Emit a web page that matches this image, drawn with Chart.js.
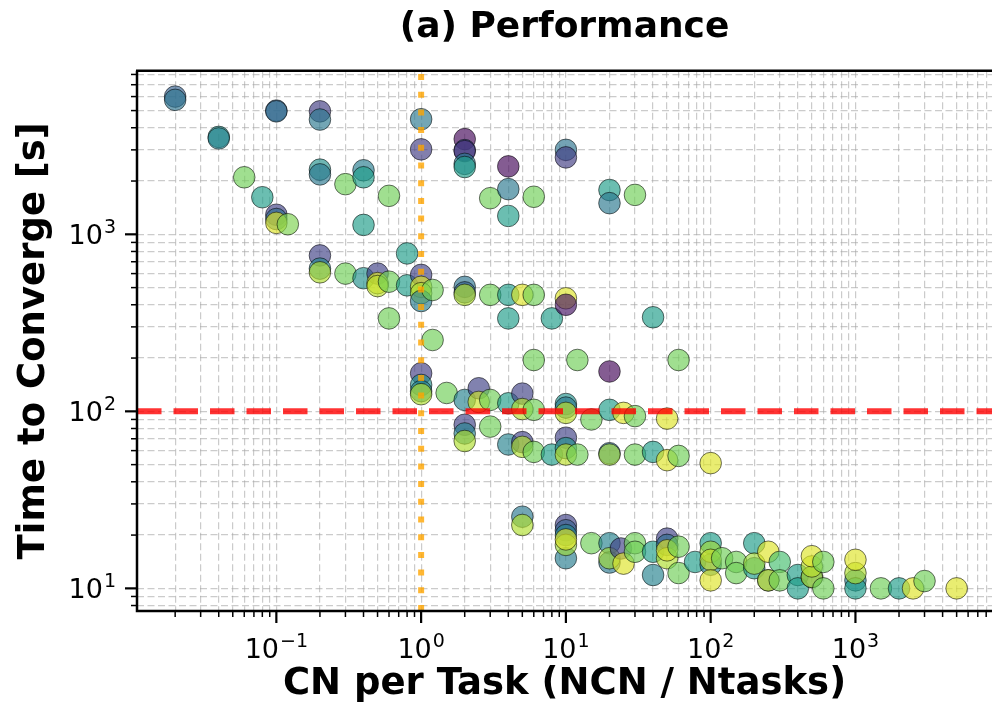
<!DOCTYPE html>
<html>
<head>
<meta charset="utf-8">
<title>(a) Performance</title>
<script src="https://cdn.jsdelivr.net/npm/chart.js@4.4.0/dist/chart.umd.min.js"></script>
<style>
  html, body { margin: 0; padding: 0; background: #fff; overflow: hidden; }
  canvas { display: block; }
</style>
</head>
<body>
<canvas id="perfChart" width="992" height="707"></canvas>
<script>
// ---- data ----
// CN per task (x), time to converge in seconds (y), colour value 0..1 (viridis)
var cnPerTask = [
    0.02, 0.02, 0.04, 0.04, 0.1, 0.1, 0.2, 0.2, 1, 1,
    2, 2, 2, 2, 2, 4, 10, 10, 0.06, 0.08,
    0.1, 0.1, 0.1, 0.12, 0.2, 0.2, 0.3, 0.4, 0.4, 0.6,
    0.4, 3, 4, 4, 6, 20, 20, 30,
    0.2, 0.2, 0.2, 0.3, 0.4, 0.5, 0.5, 0.5, 0.6, 0.8,
    0.8, 1, 1, 1, 1, 1.2, 2, 2, 2, 3,
    4, 5, 6, 0.6, 4, 8, 10, 10, 40, 1.2,
    6, 12, 60, 20,
    1, 1, 1, 1, 1.5, 2, 2.5, 2.5, 3, 4,
    5, 5, 6, 10, 10, 10, 15, 20, 25, 30,
    50, 2, 2, 2, 3, 4, 5, 5, 6, 8,
    10, 10, 10, 12, 20, 20, 30, 40, 50, 60,
    100,
    5, 5, 10, 10, 10, 10, 10, 10, 15, 20,
    20, 20, 24, 25, 30, 30, 40, 40, 50, 50,
    50, 50, 60, 60, 78, 100, 100, 100, 100, 100,
    120, 150, 150, 200, 200, 200, 250, 250, 250, 300,
    300, 400, 400, 500, 500, 500, 500, 600, 600, 1000,
    1000, 1000, 1000, 1500, 2000, 2500, 3000, 5000
];
var timeToConverge = [
    6000, 5750, 3550, 3480, 5000, 4950, 4950, 4450, 4470, 3020,
    3450, 2990, 2950, 2500, 2400, 2420, 3000, 2720, 2100, 1620,
    1290, 1220, 1160, 1140, 2320, 2180, 1920, 2300, 2100, 1650,
    1130, 1600, 1800, 1270, 1630, 1780, 1500, 1670,
    760, 640, 610, 600, 565, 600, 530, 510, 540, 780,
    515, 590, 505, 465, 420, 485, 505, 470, 455, 455,
    455, 455, 455, 335, 335, 335, 435, 400, 340, 253,
    195, 195, 195, 168,
    164, 141, 130, 125, 127, 116, 135, 113, 116, 111,
    126, 103, 102, 110, 105, 98, 90, 102, 98, 94,
    91, 84, 75, 68, 82, 65, 67, 63, 59, 57,
    71, 62, 57, 57, 58, 57, 57, 59, 53, 56,
    51,
    25.4, 22.8, 22.8, 21.3, 20, 14.8, 17.6, 18.9, 18, 18,
    14, 14.8, 16.8, 13.8, 18, 16.1, 16.1, 11.9, 19.1, 17.6,
    14.8, 16.4, 17.2, 12.2, 14.1, 18, 13.6, 16.1, 14.5, 11.1,
    14.8, 14.1, 12.2, 18, 13, 13.8, 11.1, 11.1, 16.1, 14.1,
    11.1, 11.9, 10, 11.6, 11.6, 13.3, 15.2, 14.1, 10, 11.1,
    10, 12.2, 14.5, 10, 10, 10, 11, 10
];
var colorValue = [
    0.3, 0.38, 0.5, 0.45, 0.3, 0.35, 0.18, 0.4, 0.4, 0.18,
    0.02, 0.3, 0.12, 0.4, 0.55, 0.02, 0.38, 0.18, 0.78, 0.55,
    0.2, 0.35, 0.95, 0.8, 0.5, 0.4, 0.78, 0.42, 0.55, 0.78,
    0.55, 0.78, 0.4, 0.55, 0.78, 0.55, 0.4, 0.78,
    0.2, 0.45, 0.88, 0.78, 0.5, 0.2, 0.95, 0.9, 0.78, 0.55,
    0.55, 0.2, 0.95, 0.88, 0.42, 0.78, 0.38, 0.3, 0.88, 0.78,
    0.55, 0.95, 0.78, 0.78, 0.55, 0.55, 0.95, 0.05, 0.55, 0.78,
    0.78, 0.78, 0.78, 0.02,
    0.18, 0.5, 0.45, 0.88, 0.78, 0.45, 0.2, 0.92, 0.78, 0.55,
    0.2, 0.88, 0.78, 0.5, 0.4, 0.9, 0.78, 0.55, 0.95, 0.78,
    0.95, 0.2, 0.45, 0.88, 0.78, 0.45, 0.2, 0.88, 0.78, 0.55,
    0.2, 0.5, 0.9, 0.78, 0.35, 0.85, 0.78, 0.55, 0.95, 0.78,
    0.95,
    0.4, 0.88, 0.2, 0.3, 0.45, 0.42, 0.85, 0.95, 0.78, 0.45,
    0.4, 0.85, 0.2, 0.95, 0.78, 0.78, 0.55, 0.45, 0.2, 0.35,
    0.88, 0.95, 0.78, 0.78, 0.55, 0.55, 0.45, 0.85, 0.92, 0.95,
    0.78, 0.78, 0.78, 0.55, 0.55, 0.85, 0.45, 0.92, 0.95, 0.7,
    0.78, 0.55, 0.55, 0.4, 0.88, 0.9, 0.95, 0.78, 0.78, 0.45,
    0.55, 0.88, 0.95, 0.78, 0.55, 0.95, 0.78, 0.95
];

// axis ticks: major positions and their exponent labels (10^n)
var xMajorTicks = [0.1, 1, 10, 100, 1000];
var xTickExponents = ['\u22121', '0', '1', '2', '3'];
var yMajorTicks = [10, 100, 1000];
var yTickExponents = ['1', '2', '3'];

// reference lines
var targetTime = 100;    // red dashed
var balancedRatio = 1;   // orange dotted

var viridisStops = [
    [68, 1, 84], [72, 40, 120], [62, 73, 137], [49, 104, 142], [38, 130, 142],
    [31, 158, 137], [53, 183, 121], [110, 206, 88], [181, 222, 43], [253, 231, 37]
];

function viridis(v, alpha) {
    var t = Math.max(0, Math.min(1, v)) * (viridisStops.length - 1);
    var i = Math.min(Math.floor(t), viridisStops.length - 2);
    var f = t - i;
    var a = viridisStops[i], b = viridisStops[i + 1];
    var r = Math.round(a[0] + (b[0] - a[0]) * f);
    var g = Math.round(a[1] + (b[1] - a[1]) * f);
    var bl = Math.round(a[2] + (b[2] - a[2]) * f);
    return 'rgba(' + r + ',' + g + ',' + bl + ',' + alpha + ')';
}

// 1..9 x 10^n ticks inside [min, max]
function logTicks(min, max, majors) {
    var ticks = [];
    for (var e = Math.floor(Math.log10(min)); e <= Math.ceil(Math.log10(max)); e++) {
        for (var m = 1; m <= 9; m++) {
            var v = Number((m * Math.pow(10, e)).toPrecision(6));
            if (v >= min && v <= max) {
                ticks.push({ value: v, major: majors.indexOf(v) !== -1 });
            }
        }
    }
    return ticks;
}

var points = cnPerTask.map(function (x, i) {
    return { x: x, y: timeToConverge[i] };
});

var gridStyle = {
    color: 'rgba(165,165,165,0.58)',
    lineWidth: 1.2,
    drawTicks: false,
    tickLength: 0
};

var baseFont = '27px "DejaVu Sans"';
var expFont = '19px "DejaVu Sans"';

// reference lines drawn over the markers, like the original
var refLines = {
    id: 'refLines',
    afterDatasetsDraw: function (chart) {
        var ctx = chart.ctx, area = chart.chartArea;
        var yPix = chart.scales.y.getPixelForValue(targetTime);
        var xPix = chart.scales.x.getPixelForValue(balancedRatio);
        ctx.save();
        ctx.beginPath();
        ctx.rect(area.left, area.top, area.right - area.left, area.bottom - area.top);
        ctx.clip();

        ctx.strokeStyle = 'rgba(255,165,0,0.8)';
        ctx.lineWidth = 6;
        ctx.setLineDash([6, 11.7]);
        ctx.beginPath();
        ctx.moveTo(xPix, area.bottom);
        ctx.lineTo(xPix, area.top);
        ctx.stroke();

        ctx.strokeStyle = 'rgba(255,0,0,0.8)';
        ctx.lineWidth = 6;
        ctx.setLineDash([24.5, 12]);
        ctx.beginPath();
        ctx.moveTo(area.left, yPix);
        ctx.lineTo(area.right, yPix);
        ctx.stroke();
        ctx.restore();
    }
};

// spines, outward ticks (long major, short minor) and 10^n labels
var frame = {
    id: 'frame',
    afterDraw: function (chart) {
        var ctx = chart.ctx, area = chart.chartArea;
        var xs = chart.scales.x, ys = chart.scales.y;
        ctx.save();
        ctx.strokeStyle = '#000';
        ctx.fillStyle = '#000';
        ctx.setLineDash([]);

        xs.ticks.forEach(function (t) {
            var p = xs.getPixelForValue(t.value);
            ctx.lineWidth = t.major ? 2.2 : 1.5;
            ctx.beginPath();
            ctx.moveTo(p, area.bottom);
            ctx.lineTo(p, area.bottom + (t.major ? 12 : 6));
            ctx.stroke();
        });
        ys.ticks.forEach(function (t) {
            var p = ys.getPixelForValue(t.value);
            ctx.lineWidth = t.major ? 2.2 : 1.5;
            ctx.beginPath();
            ctx.moveTo(area.left, p);
            ctx.lineTo(area.left - (t.major ? 12 : 6), p);
            ctx.stroke();
        });

        ctx.lineWidth = 2.5;
        ctx.beginPath();
        ctx.moveTo(area.left, area.top);
        ctx.lineTo(area.left, area.bottom);
        ctx.lineTo(area.right + 2, area.bottom);
        ctx.moveTo(area.left - 1, area.top);
        ctx.lineTo(area.right + 2, area.top);
        ctx.stroke();

        ctx.textBaseline = 'alphabetic';
        ctx.textAlign = 'left';
        xMajorTicks.forEach(function (v, i) {
            var p = xs.getPixelForValue(v);
            ctx.font = baseFont;
            var wb = ctx.measureText('10').width;
            ctx.font = expFont;
            var we = ctx.measureText(xTickExponents[i]).width;
            var x0 = p - (wb + we + 1) / 2;
            ctx.font = baseFont;
            ctx.fillText('10', x0, area.bottom + 47);
            ctx.font = expFont;
            ctx.fillText(xTickExponents[i], x0 + wb + 1, area.bottom + 36);
        });
        yMajorTicks.forEach(function (v, i) {
            var p = ys.getPixelForValue(v);
            ctx.font = expFont;
            var we = ctx.measureText(yTickExponents[i]).width;
            var xr = area.left - 21;
            ctx.fillText(yTickExponents[i], xr - we, p - 1);
            ctx.font = baseFont;
            var wb = ctx.measureText('10').width;
            ctx.fillText('10', xr - we - 1 - wb, p + 10);
        });
        ctx.restore();
    }
};

var axisTitleFont = { family: 'DejaVu Sans', size: 37, weight: 'bold', lineHeight: 1.2 };

new Chart(document.getElementById('perfChart'), {
    type: 'scatter',
    data: {
        datasets: [{
            label: 'runs',
            data: points,
            pointRadius: 10.8,
            pointHoverRadius: 10.8,
            borderWidth: 1,
            borderColor: 'rgba(0,0,0,0.55)',
            backgroundColor: function (c) {
                return viridis(colorValue[c.dataIndex], 0.66);
            }
        }]
    },
    options: {
        responsive: false,
        animation: false,
        devicePixelRatio: 1,
        layout: { padding: 0, autoPadding: false },
        plugins: {
            legend: { display: false },
            tooltip: { enabled: false },
            title: {
                display: true,
                text: '(a) Performance',
                fullSize: false,
                color: '#000',
                font: { family: 'DejaVu Sans', size: 36, weight: 'bold', lineHeight: 1.2 },
                padding: { top: 6, bottom: 21.5 }
            }
        },
        scales: {
            x: {
                type: 'logarithmic',
                min: 0.0109,
                max: 8775,
                grid: gridStyle,
                border: { display: false, dash: [7, 3.5] },
                afterBuildTicks: function (s) { s.ticks = logTicks(s.min, s.max, xMajorTicks); },
                afterFit: function (s) {
                    s.height = 96;
                    s.paddingLeft = 0;
                    s.paddingRight = 0;
                },
                ticks: { display: false },
                title: {
                    display: true,
                    text: 'CN per Task (NCN / Ntasks)',
                    color: '#000',
                    font: axisTitleFont,
                    padding: { top: 0, bottom: 0 }
                }
            },
            y: {
                type: 'logarithmic',
                min: 7.45,
                max: 8400,
                grid: gridStyle,
                border: { display: false, dash: [7, 3.5] },
                afterBuildTicks: function (s) { s.ticks = logTicks(s.min, s.max, yMajorTicks); },
                afterFit: function (s) {
                    s.width = 137;
                    s.paddingTop = 0;
                    s.paddingBottom = 0;
                },
                ticks: { display: false },
                title: {
                    display: true,
                    text: 'Time to Converge [s]',
                    color: '#000',
                    font: axisTitleFont,
                    padding: { top: 12, bottom: 0 }
                }
            }
        }
    },
    plugins: [refLines, frame]
});
</script>
</body>
</html>
